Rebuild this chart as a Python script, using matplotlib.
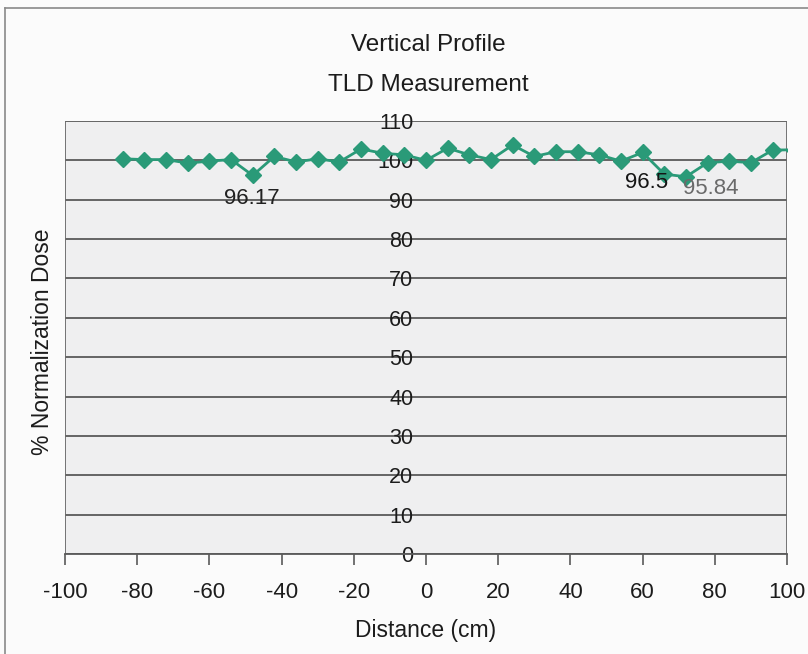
import matplotlib
matplotlib.use("Agg")
import matplotlib.pyplot as plt
from matplotlib.lines import Line2D

plt.rcParams['font.family'] = ['Liberation Sans', 'DejaVu Sans']
plt.rcParams['axes.unicode_minus'] = False

# TLD measurement positions (cm) and normalized dose (%)
distance = [-84, -78, -72, -66, -60, -54, -48, -42, -36, -30, -24, -18, -12, -6,
            0, 6, 12, 18, 24, 30, 36, 42, 48, 54, 60, 66, 72, 78, 84, 90, 96, 102]
dose = [100.4, 100.2, 100.2, 99.3, 99.8, 100.2, 96.17, 101.0, 99.6, 100.4, 99.6,
        102.9, 101.8, 101.4, 100.0, 103.1, 101.4, 100.2, 103.9, 101.0, 102.2,
        102.2, 101.4, 99.8, 102.0, 96.5, 95.84, 99.4, 99.8, 99.4, 102.6, 102.7]

x_ticks = [-100, -80, -60, -40, -20, 0, 20, 40, 60, 80, 100]
y_ticks = [0, 10, 20, 30, 40, 50, 60, 70, 80, 90, 100, 110]

# labelled low points: (index, label offset in data units, colour)
labelled = [(6, (-0.3, -5.9), '#222222'),
            (25, (-4.8, -2.2), '#151515'),
            (26, (7.0, -2.9), '#6a6a6a')]

title = ["Vertical Profile", "TLD Measurement"]
x_label = "Distance (cm)"
y_label = "% Normalization Dose"

text_col = '#1c1c1c'

fig = plt.figure(figsize=(8.08, 6.54), dpi=100, facecolor='#fbfbfb')
ax = fig.add_axes([65 / 808, 1 - 554 / 654, 722 / 808, 433 / 654])
ax.set_facecolor('#efeff0')

ax.set_xlim(-100, 100)
ax.set_ylim(0, 110)
ax.set_xticks(x_ticks)
ax.set_yticks(y_ticks)

# horizontal gridlines
for yv in y_ticks:
    ax.axhline(yv, color='#5a5a5a', lw=1.3, zorder=1)

# plot-area frame on left and right
ax.axvline(-100, color='#6a6a6a', lw=1.3, zorder=1)
ax.axvline(100, color='#6a6a6a', lw=1.3, zorder=1)

for s in ['top', 'right', 'left']:
    ax.spines[s].set_visible(False)
ax.spines['bottom'].set_color('#5a5a5a')
ax.spines['bottom'].set_linewidth(1.3)

# value axis crosses at x = 0
ax.spines['left'].set_position(('data', 0))
ax.tick_params(axis='y', length=0, pad=9, labelsize=15.5, labelcolor=text_col)
ax.tick_params(axis='x', direction='out', length=8, width=1.2, color='#5a5a5a',
               pad=12, labelsize=16, labelcolor=text_col)

ax.plot(distance, dose, color='#2a9a78', lw=2.0, marker='D', ms=8,
        mfc='#2a9a78', mec='#2a9a78', zorder=3, clip_on=True)

for i, (dx, dy), col in labelled:
    ax.text(distance[i] + dx, dose[i] + dy, f"{dose[i]:g}", ha='center',
            va='center', fontsize=16, color=col, zorder=4)

fig.text(428 / 808, 1 - 45 / 654, title[0], ha='center', va='center',
         fontsize=17.5, color=text_col)
fig.text(428 / 808, 1 - 85 / 654, title[1], ha='center', va='center',
         fontsize=17.5, color=text_col)
fig.text(426 / 808, 1 - 630 / 654, x_label, ha='center', va='center',
         fontsize=16.5, color=text_col)
fig.text(43 / 808, 1 - 342 / 654, y_label, ha='center', va='center',
         rotation=90, fontsize=16.5, color=text_col)

# outer chart frame (top and left edges)
fig.add_artist(Line2D([5 / 808, 1], [1 - 8 / 654, 1 - 8 / 654],
                      transform=fig.transFigure, color='#8a8a8a', lw=1.2))
fig.add_artist(Line2D([5 / 808, 5 / 808], [0, 1 - 8 / 654],
                      transform=fig.transFigure, color='#8a8a8a', lw=1.2))

fig.savefig('out.png', dpi=100, facecolor=fig.get_facecolor())
